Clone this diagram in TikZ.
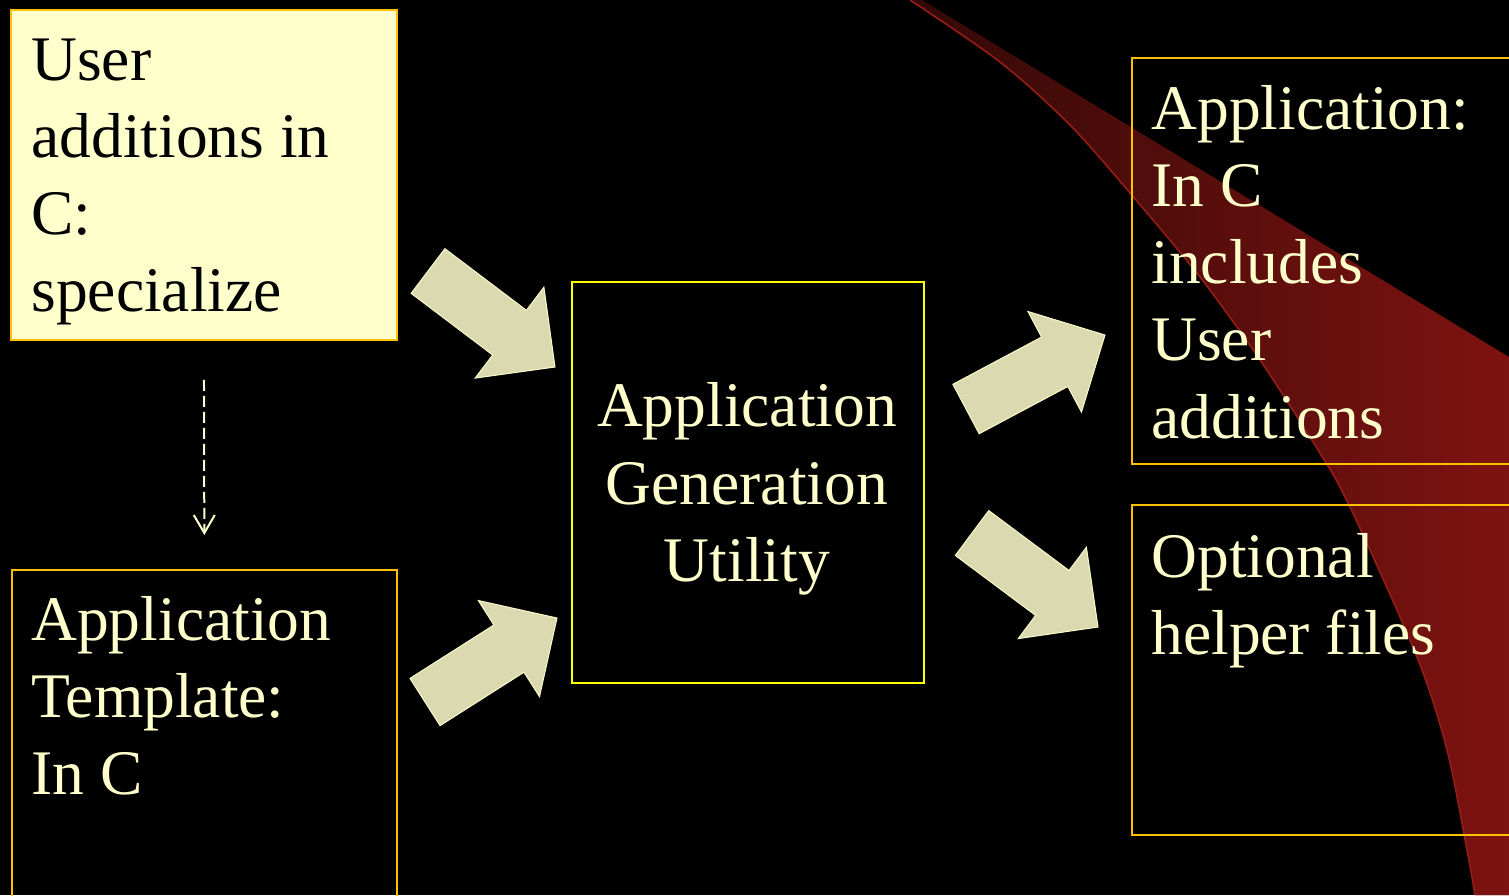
\documentclass[tikz,border=0pt]{standalone}
\usepackage{fontspec}
\setmainfont{Liberation Serif}
\usetikzlibrary{arrows.meta,calc}

\definecolor{cream}{RGB}{255,255,204}
\definecolor{boxorange}{RGB}{255,192,0}
\definecolor{boxyellow}{RGB}{255,255,0}
\definecolor{khaki}{RGB}{219,217,176}
\definecolor{swooshred}{RGB}{126,19,17}
\definecolor{swooshdark}{RGB}{50,9,7}
\definecolor{swooshedge}{RGB}{150,28,22}

\tikzset{
  slidebox/.style={draw=boxorange, line width=0.9pt, anchor=north west, inner sep=0pt},
  slidetext/.style={anchor=north west, inner sep=0pt, align=left, text=cream,
    font=\fontsize{31.75pt}{38.6pt}\selectfont},
  bigarrow/.style={fill=khaki, draw=cream!85!khaki, line width=0.5pt, line join=miter},
  dashlink/.style={draw=cream, line width=1pt, dash pattern=on 5.5pt off 2.5pt,
    -{Straight Barb[length=9pt,width=10.5pt]}},
}

\newcommand\firstline{\rule{0pt}{0.7em}}
% fat block arrow from #1 (tail) to #2 (tip)
\newcommand\fatarrow[2]{%
  \coordinate (#2 neck) at ($(#2)!28.5pt!(#1)$);
  \draw[bigarrow] ($(#1)!14pt!90:(#2)$) -- ($(#2 neck)!14pt!90:(#2)$)
    -- ($(#2 neck)!28.5pt!90:(#2)$) -- (#2) -- ($(#2 neck)!28.5pt!-90:(#2)$)
    -- ($(#2 neck)!14pt!-90:(#2)$) -- ($(#1)!14pt!-90:(#2)$) -- cycle;}

\begin{document}
\begin{tikzpicture}[x=0.5pt, y=-0.5pt]
\useasboundingbox (0,0) rectangle (1509,895);
\clip (0,0) rectangle (1509,895);
\fill[black] (0,0) rectangle (1509,895);

% red swoosh
\fill[left color=swooshdark, right color=swooshred] (922,0) -- (1509,357) -- (1509,895) -- (1475,895)
  -- plot[smooth] coordinates {(1475,895) (1467,850) (1447,750) (1417,657) (1350,507) (1318,450)
     (1260,360) (1200,277) (1130,193) (1070,125) (1000,62) (910,0)} -- cycle;
\draw[swooshedge, line width=0.8pt] plot[smooth] coordinates {(1475,895) (1467,850) (1447,750)
  (1417,657) (1350,507) (1318,450) (1260,360) (1200,277) (1130,193) (1070,125) (1000,62) (910,0)};

\node[slidebox, fill=cream, minimum width=193pt, minimum height=165pt] (user) at (10,9) {};
\node[slidebox, minimum width=192.5pt, minimum height=200pt] (tmpl) at (11,569) {};
\node[slidebox, draw=boxyellow, minimum width=176pt, minimum height=200.5pt] (agu) at (571,281) {};
\node[slidebox, minimum width=250pt, minimum height=203pt] (app) at (1131,57) {};
\node[slidebox, minimum width=250pt, minimum height=165pt] (helper) at (1131,504) {};

\node[slidetext, text=black] (user text) at ([shift={(21,26.5)}]user.north west)
  {\firstline User\\additions in\\C:\\specialize};
\node[slidetext] (tmpl text) at ([shift={(20,26.5)}]tmpl.north west)
  {\firstline Application\\Template:\\In C};
\node[slidetext, anchor=north, align=center] (agu text) at ([shift={(-1,101)}]agu.north)
  {\firstline Application\\Generation\\Utility};
\node[slidetext] (app text) at ([shift={(20,27.5)}]app.north west)
  {\firstline Application:\\In C\\includes\\User\\additions};
\node[slidetext] (helper text) at ([shift={(20,28.5)}]helper.north west)
  {\firstline Optional\\helper files};

\draw[dashlink, shorten <=19.5pt, shorten >=17pt] (user.south) -- (tmpl.north);

\coordinate (ua tail) at (428,271);
\coordinate (ua tip) at (555,367);
\coordinate (ta tail) at (425,702);
\coordinate (ta tip) at (557,618);
\coordinate (aa tail) at (966,409);
\coordinate (aa tip) at (1105,335);
\coordinate (ah tail) at (972,533);
\coordinate (ah tip) at (1098,627);
\fatarrow{ua tail}{ua tip}
\fatarrow{ta tail}{ta tip}
\fatarrow{aa tail}{aa tip}
\fatarrow{ah tail}{ah tip}
\end{tikzpicture}
\end{document}
